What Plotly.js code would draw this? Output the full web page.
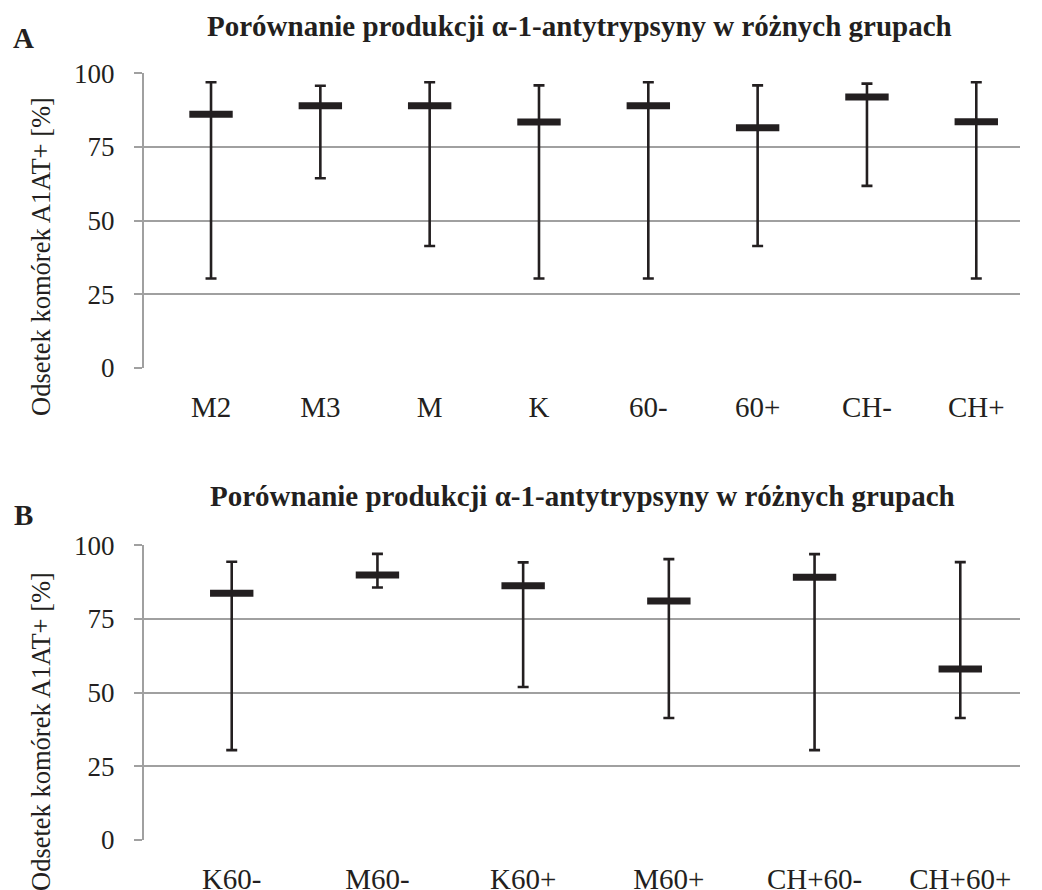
<!DOCTYPE html>
<html>
<head>
<meta charset="utf-8">
<script src="https://cdn.plot.ly/plotly-3.0.1.min.js"></script>
<style>
  html, body { margin: 0; padding: 0; background: #ffffff; }
  #chart { width: 1042px; height: 890px; }
</style>
</head>
<body>
<div id="chart"></div>
<script>
// Panel A: groups and A1AT+ percentages (median, max, min)
const catsA = ['M2', 'M3', 'M', 'K', '60-', '60+', 'CH-', 'CH+'];
const medA  = [86.1, 89.0, 89.0, 83.5, 89.0, 81.5, 92.0, 83.6];
const maxA  = [97.0, 95.8, 97.0, 95.9, 97.0, 95.9, 96.5, 97.0];
const minA  = [30.4, 64.4, 41.4, 30.4, 30.4, 41.4, 61.8, 30.4];

// Panel B: combined groups
const catsB = ['K60-', 'M60-', 'K60+', 'M60+', 'CH+60-', 'CH+60+'];
const medB  = [83.7, 89.9, 86.3, 81.1, 89.2, 58.0];
const maxB  = [94.4, 97.1, 94.2, 95.3, 97.0, 94.3];
const minB  = [30.5, 85.7, 51.9, 41.4, 30.5, 41.4];

const yTicks = [0, 25, 50, 75, 100];
const titleText = 'Porównanie produkcji α-1-antytrypsyny w różnych grupach';
const yTitleText = 'Odsetek komórek A1AT+ [%]';

const ink = '#231f20';
const gridCol = '#a0a0a0';
const FONT = '"Liberation Serif", "Times New Roman", serif';

function rangeTrace(cats, med, mx, mn, xa, ya) {
  return {
    type: 'scatter', mode: 'markers',
    x: cats, y: med, xaxis: xa, yaxis: ya,
    marker: { symbol: 'line-ew', size: 31, color: ink, line: { color: ink, width: 7 } },
    error_y: {
      type: 'data', symmetric: false,
      array: mx.map((v, i) => v - med[i]),
      arrayminus: mn.map((v, i) => med[i] - v),
      color: ink, thickness: 2.6, width: 5.5
    },
    hoverinfo: 'x+y', showlegend: false, cliponaxis: false
  };
}

function yAxis(domain) {
  return {
    domain: domain, range: [0, 100], tickvals: yTicks, ticktext: yTicks.map(String),
    showgrid: true, gridcolor: gridCol, gridwidth: 2,
    zeroline: false, showline: true, linecolor: gridCol, linewidth: 2,
    ticks: 'outside', ticklen: 8, tickcolor: gridCol, tickwidth: 2,
    ticklabelstandoff: 14,
    tickfont: { family: FONT, size: 27, color: ink }, fixedrange: true
  };
}

function xAxis(cats, range, anchor) {
  return {
    type: 'category', categoryorder: 'array', categoryarray: cats,
    range: range, anchor: anchor, domain: [0.1382, 0.9789],
    showgrid: false, zeroline: false, showline: false, ticks: '',
    ticklabelstandoff: 19,
    tickfont: { family: FONT, size: 29, color: ink }, fixedrange: true
  };
}

const data = [
  rangeTrace(catsA, medA, maxA, minA, 'x', 'y'),
  rangeTrace(catsB, medB, maxB, minB, 'x2', 'y2')
];

function ann(text, x, y, size, extra) {
  return Object.assign({
    text: text, x: x, y: y, xref: 'paper', yref: 'paper',
    xanchor: 'center', yanchor: 'middle', showarrow: false,
    font: { family: FONT, size: size, color: ink }
  }, extra || {});
}

const layout = {
  width: 1042, height: 890,
  margin: { l: 0, r: 0, t: 0, b: 0 },
  paper_bgcolor: '#ffffff', plot_bgcolor: '#ffffff',
  showlegend: false,
  font: { family: FONT, color: ink },
  xaxis: xAxis(catsA, [-0.613, 7.40], 'y'),
  yaxis: yAxis([0.5865, 0.9176]),
  xaxis2: xAxis(catsB, [-0.602, 5.41], 'y2'),
  yaxis2: yAxis([0.0562, 0.3873]),
  annotations: [
    ann('<b>A</b>', 23 / 1042, 1 - 38 / 890, 29),
    ann('<b>B</b>', 23 / 1042, 1 - 515 / 890, 29),
    ann('<b>' + titleText + '</b>', 579 / 1042, 1 - 26 / 890, 29),
    ann('<b>' + titleText + '</b>', 582 / 1042, 1 - 496 / 890, 29),
    ann(yTitleText, 41 / 1042, 1 - 257 / 890, 26.5, { textangle: -90 }),
    ann(yTitleText, 41 / 1042, 1 - 732 / 890, 26.5, { textangle: -90 })
  ]
};

Plotly.newPlot('chart', data, layout, { displayModeBar: false, staticPlot: true });
</script>
</body>
</html>
